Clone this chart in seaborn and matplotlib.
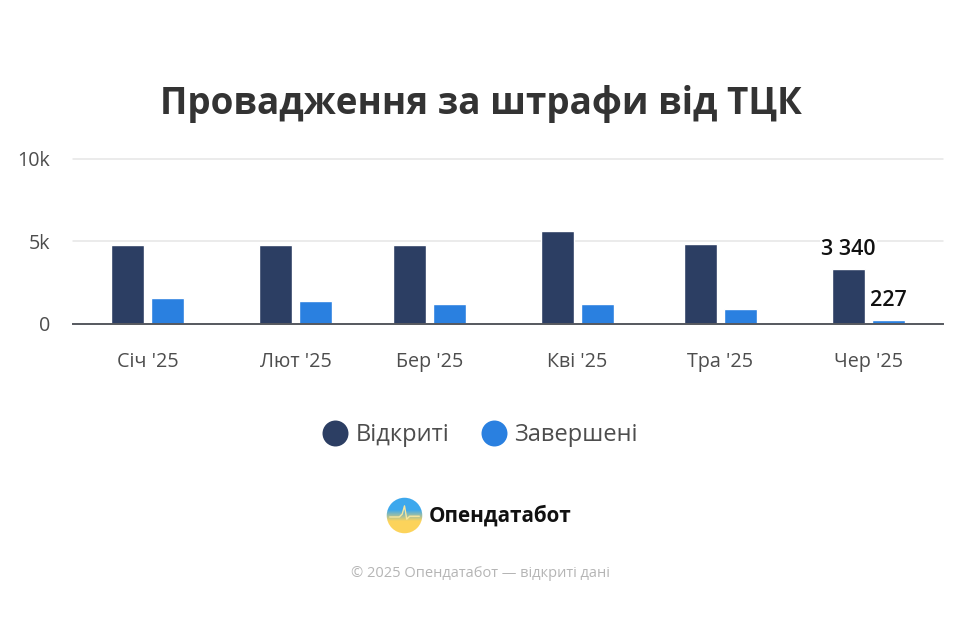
import matplotlib
matplotlib.use("Agg")
import matplotlib.pyplot as plt
import matplotlib.dates as mdates
from matplotlib.lines import Line2D
from matplotlib.patches import Circle
import numpy as np
import pandas as pd
import seaborn as sns

months = ["2025-01-01", "2025-02-01", "2025-03-01", "2025-04-01", "2025-05-01", "2025-06-01"]
month_labels = ["Січ '25", "Лют '25", "Бер '25", "Кві '25", "Тра '25", "Чер '25"]
opened = [4760, 4760, 4760, 5620, 4830, 3340]
closed = [1550, 1360, 1180, 1180, 880, 227]
series_names = ["Відкриті", "Завершені"]
y_ticks = [0, 5000, 10000]
y_labels = ["0", "5k", "10k"]
colors = ["#2c3e63", "#2a80e0"]

sns.set_theme(style="white")
plt.rcParams["font.family"] = ["Open Sans", "DejaVu Sans"]

x_nums = mdates.date2num(pd.to_datetime(months))
df = pd.DataFrame({
    "x": np.concatenate([x_nums, x_nums]),
    "value": opened + closed,
    "series": [series_names[0]] * 6 + [series_names[1]] * 6,
})

W, H = 960, 643
fig = plt.figure(figsize=(W / 100, H / 100), dpi=100, facecolor="white")
ax = fig.add_axes([73 / W, 1 - 323.5 / H, 870 / W, 164.5 / H])

sns.barplot(data=df, x="x", y="value", hue="series", hue_order=series_names,
            palette=colors, native_scale=True, width=0.6, gap=0.18,
            saturation=1, legend=False, ax=ax, zorder=3)

ax.set_xlim(x_nums[0] - 15.6, x_nums[-1] + 15.6)
ax.set_ylim(0, 10000)
ax.set_xticks(x_nums, month_labels)
ax.set_yticks(y_ticks, y_labels)
ax.set_xlabel("")
ax.set_ylabel("")
ax.grid(axis="y", color="#e6e6e6", lw=1.1, zorder=0)
for gl in ax.get_ygridlines():
    gl.set_clip_on(False)
ax.grid(axis="x", visible=False)
ax.set_axisbelow(True)
for side in ["top", "right", "left"]:
    ax.spines[side].set_visible(False)
ax.spines["bottom"].set_color("#55585f")
ax.spines["bottom"].set_linewidth(1.4)
ax.spines["bottom"].set_zorder(5)
ax.tick_params(axis="x", length=0, pad=20.5, labelsize=14.2, labelcolor="#4d4d4d")
ax.tick_params(axis="y", length=0, pad=16.5, labelsize=14.2, labelcolor="#4d4d4d")

# Labels on the last month only
bar_opened = ax.containers[0][-1]
bar_closed = ax.containers[1][-1]
ax.annotate("3 340", (bar_opened.get_x() + bar_opened.get_width() / 2, opened[-1]),
            xytext=(0, 6), textcoords="offset points", ha="center", va="bottom",
            fontsize=15.5, fontweight="semibold", color="#111111", zorder=6,
            bbox=dict(facecolor="white", edgecolor="none", pad=1))
ax.annotate("227", (bar_closed.get_x() + bar_closed.get_width() / 2, closed[-1]),
            xytext=(0, 6), textcoords="offset points", ha="center", va="bottom",
            fontsize=15.5, fontweight="semibold", color="#111111", zorder=6)

fig.text(481 / W, 1 - 104 / H, "Провадження за штрафи від ТЦК", ha="center", va="center",
         fontsize=26.6, fontweight="bold", color="#333333")

handles = [Line2D([], [], ls="", marker="o", ms=18.7, color=c, mec="none") for c in colors]
fig.legend(handles, series_names, loc="center", bbox_to_anchor=(480 / W, 1 - 435 / H),
           ncols=2, frameon=False, fontsize=17, labelcolor="#4d4d4d",
           handletextpad=0.3, columnspacing=1.35, handlelength=1.1)

# Logo
logo = fig.add_axes([386 / W, 1 - 534 / H, 37 / W, 37 / H])
logo.axis("off")
ramp = np.clip((np.linspace(0, 1, 128)[:, None, None] - 0.35) / 0.3, 0, 1)
blue = np.array([0.24, 0.66, 0.93])
yellow = np.array([0.99, 0.83, 0.36])
img = blue * (1 - ramp) + yellow * ramp
im = logo.imshow(img, extent=(0, 1, 0, 1), aspect="auto")
im.set_clip_path(Circle((0.5, 0.5), 0.48, transform=logo.transData))
logo.plot([0.10, 0.36, 0.44, 0.50, 0.56, 0.64, 0.90], [0.46, 0.46, 0.54, 0.76, 0.40, 0.48, 0.48],
          color="#f6e6a0", lw=1.0)
logo.set_xlim(0, 1)
logo.set_ylim(0, 1)

fig.text(429 / W, 1 - 516 / H, "Опендатабот", ha="left", va="center",
         fontsize=14.9, fontweight="bold", color="#111111")
fig.text(480 / W, 1 - 573.5 / H, "© 2025 Опендатабот — відкриті дані", ha="center", va="center",
         fontsize=10.5, color="#b5b5b5")

fig.savefig("out.png", dpi=100, facecolor="white")
